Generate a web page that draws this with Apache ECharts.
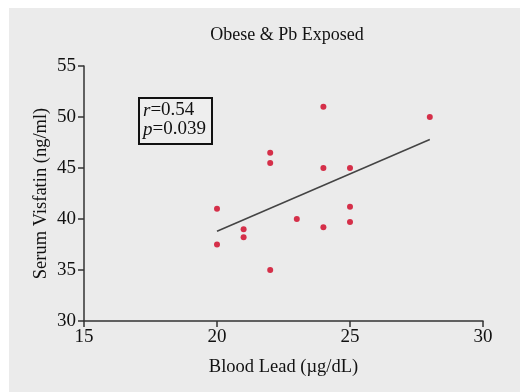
<!DOCTYPE html>
<html>
<head>
<meta charset="utf-8">
<script src="https://cdn.jsdelivr.net/npm/echarts@6/dist/echarts.min.js"></script>
<style>
  html, body { margin: 0; padding: 0; background: #ffffff; }
  #chart { width: 520px; height: 392px; }
</style>
</head>
<body>
<div id="chart"></div>
<script>
// blood lead (µg/dL) and serum visfatin (ng/ml)
const bloodLead = [20, 20, 21, 21, 22, 22, 22, 23, 24, 24, 24, 25, 25, 25, 28]
const visfatin = [41, 37.5, 39, 38.2, 46.5, 45.5, 35, 40, 51, 45, 39.2, 45, 41.2, 39.7, 50]
// regression line end points
const fitX = [20, 28]
const fitY = [38.8, 47.8]

const font = '"Liberation Serif", "Times New Roman", serif'

const chart = echarts.init(document.getElementById('chart'))

chart.setOption({
  animation: false,
  textStyle: { fontFamily: font },
  graphic: [
    {
      type: 'rect',
      z: -10,
      silent: true,
      shape: { x: 9, y: 8, width: 511, height: 384 },
      style: { fill: '#ebebeb' }
    },
    {
      type: 'group',
      left: 138,
      top: 97,
      children: [
        {
          type: 'rect',
          shape: { x: 0, y: 0, width: 73, height: 46 },
          style: { fill: '#eeeeee', stroke: '#111', lineWidth: 2 }
        },
        {
          type: 'text',
          x: 4,
          y: 3,
          style: {
            rich: {
              i: { fontFamily: font, fontStyle: 'italic', fontSize: 19, fill: '#111', lineHeight: 19 },
              n: { fontFamily: font, fontSize: 19, fill: '#111', lineHeight: 19 }
            },
            text: '{i|r}{n|=0.54}\n{i|p}{n|=0.039}'
          }
        }
      ]
    }
  ],
  title: {
    text: 'Obese & Pb Exposed',
    left: 282,
    top: 21,
    textAlign: 'center',
    textStyle: { fontFamily: font, fontSize: 18, fontWeight: 'normal', color: '#111' }
  },
  grid: {
    left: 84,
    right: 37,
    top: 66,
    bottom: 71
  },
  xAxis: {
    type: 'value',
    min: 15,
    max: 30,
    interval: 5,
    name: 'Blood Lead (µg/dL)',
    nameLocation: 'middle',
    nameGap: 37,
    nameTextStyle: { fontFamily: font, fontSize: 18.5, color: '#111' },
    splitLine: { show: false },
    axisLine: { lineStyle: { color: '#333', width: 1.5 } },
    axisTick: { show: true, length: 6, lineStyle: { color: '#333', width: 1.5 } },
    axisLabel: { fontFamily: font, fontSize: 19, color: '#111', margin: 7 }
  },
  yAxis: {
    type: 'value',
    min: 30,
    max: 55,
    interval: 5,
    name: 'Serum Visfatin (ng/ml)',
    nameLocation: 'middle',
    nameGap: 33,
    nameMoveOverlap: false,
    nameTextStyle: { fontFamily: font, fontSize: 18.5, color: '#111' },
    splitLine: { show: false },
    axisLine: { show: true, lineStyle: { color: '#333', width: 1.5 } },
    axisTick: { show: true, length: 6, lineStyle: { color: '#333', width: 1.5 } },
    axisLabel: { fontFamily: font, fontSize: 19, color: '#111', margin: 8 }
  },
  series: [
    {
      type: 'line',
      data: fitX.map((x, i) => [x, fitY[i]]),
      symbol: 'none',
      lineStyle: { color: '#444', width: 1.5 },
      z: 1
    },
    {
      type: 'scatter',
      data: bloodLead.map((x, i) => [x, visfatin[i]]),
      symbolSize: 6,
      itemStyle: { color: '#cf0020' },
      z: 2
    }
  ]
})
</script>
</body>
</html>
